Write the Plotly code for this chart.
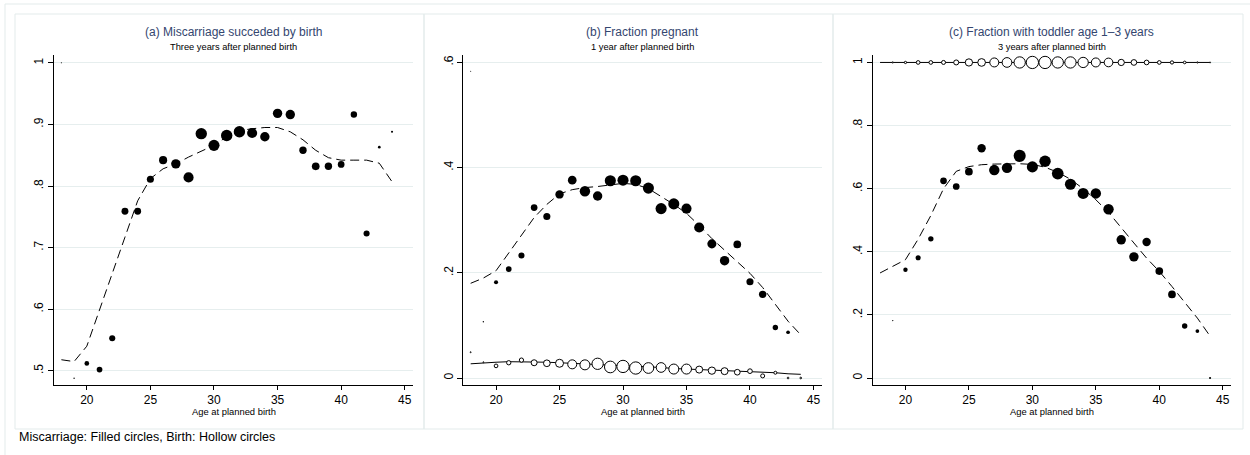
import plotly.graph_objects as go

# ---------------- data ----------------
ages = [18, 19, 20, 21, 22, 23, 24, 25, 26, 27, 28, 29, 30, 31, 32, 33, 34, 35, 36, 37, 38, 39, 40, 41, 42, 43, 44]

# (a) Miscarriage succeded by birth, three years after planned birth
a_misc_age = [18, 19, 20, 21, 22, 23, 24, 25, 26, 27, 28, 29, 30, 31, 32, 33, 34, 35, 36, 37, 38, 39, 40, 41, 42, 43, 44]
a_misc_val = [1.000, 0.488, 0.512, 0.502, 0.553, 0.759, 0.759, 0.811, 0.842, 0.836, 0.814, 0.885, 0.866, 0.882,
              0.888, 0.886, 0.880, 0.918, 0.916, 0.858, 0.832, 0.832, 0.835, 0.916, 0.723, 0.863, 0.888]
a_misc_wt = [1.7, 2.0, 5.3, 6.3, 6.7, 7.5, 7.5, 7.7, 8.7, 10.0, 10.7, 12.0, 11.7, 12.0, 12.0, 10.7, 10.0, 10.0,
             10.0, 8.0, 8.3, 8.0, 7.3, 7.0, 6.7, 3.3, 2.7]
a_fit = [0.518, 0.515, 0.540, 0.598, 0.657, 0.717, 0.776, 0.812, 0.828, 0.836, 0.847, 0.856, 0.866, 0.880, 0.890,
         0.893, 0.895, 0.895, 0.888, 0.875, 0.858, 0.846, 0.842, 0.842, 0.842, 0.837, 0.807]

# (b) Fraction pregnant, 1 year after planned birth
b_misc_age = [18, 19, 20, 21, 22, 23, 24, 25, 26, 27, 28, 29, 30, 31, 32, 33, 34, 35, 36, 37, 38, 39, 40, 41, 42, 43]
b_misc_val = [0.583, 0.107, 0.182, 0.207, 0.233, 0.324, 0.307, 0.349, 0.376, 0.355, 0.346, 0.375, 0.376, 0.375,
              0.361, 0.322, 0.331, 0.322, 0.286, 0.255, 0.223, 0.254, 0.183, 0.159, 0.096, 0.087]
b_misc_wt = [1.3, 2.0, 4.7, 6.3, 6.7, 7.3, 7.7, 9.0, 9.3, 11.0, 10.0, 11.7, 11.7, 11.7, 11.7, 11.7, 11.7, 10.7,
             10.7, 9.7, 10.0, 8.3, 7.7, 8.0, 6.0, 4.3]
b_misc_fit = [0.180, 0.190, 0.204, 0.237, 0.272, 0.305, 0.330, 0.350, 0.358, 0.362, 0.364, 0.367, 0.370, 0.368,
              0.360, 0.345, 0.330, 0.313, 0.290, 0.265, 0.243, 0.221, 0.199, 0.172, 0.140, 0.108, 0.082]
b_birth_age = [18, 19, 20, 21, 22, 23, 24, 25, 26, 27, 28, 29, 30, 31, 32, 33, 34, 35, 36, 37, 38, 39, 40, 41, 42, 43, 44]
b_birth_val = [0.049, 0.030, 0.023, 0.029, 0.034, 0.029, 0.028, 0.028, 0.026, 0.025, 0.027, 0.021, 0.022, 0.019,
               0.019, 0.020, 0.017, 0.017, 0.016, 0.014, 0.013, 0.011, 0.013, 0.004, 0.010, 0.000, 0.000]
b_birth_wt = [1.3, 2.0, 4.7, 5.3, 5.3, 7.0, 7.7, 9.0, 10.0, 11.0, 12.3, 12.7, 13.3, 13.3, 11.7, 10.7, 11.0, 11.0,
              8.0, 8.3, 8.0, 6.7, 5.7, 5.0, 4.0, 2.7, 2.7]
b_birth_fit = [0.027, 0.029, 0.030, 0.031, 0.031, 0.031, 0.030, 0.029, 0.028, 0.027, 0.025, 0.024, 0.023, 0.022,
               0.021, 0.020, 0.018, 0.017, 0.016, 0.015, 0.014, 0.013, 0.0125, 0.011, 0.010, 0.008, 0.007]

# (c) Fraction with toddler age 1-3 years, 3 years after planned birth
c_misc_age = [19, 20, 21, 22, 23, 24, 25, 26, 27, 28, 29, 30, 31, 32, 33, 34, 35, 36, 37, 38, 39, 40, 41, 42, 43, 44]
c_misc_val = [0.182, 0.343, 0.381, 0.441, 0.625, 0.607, 0.654, 0.728, 0.659, 0.666, 0.704, 0.669, 0.687, 0.648,
              0.614, 0.585, 0.585, 0.535, 0.438, 0.384, 0.431, 0.339, 0.265, 0.165, 0.149, 0.000]
c_misc_wt = [2.0, 5.0, 5.7, 6.0, 7.3, 7.3, 8.3, 9.0, 11.0, 11.0, 12.7, 11.7, 12.0, 12.3, 11.7, 11.7, 11.0, 11.0,
             10.0, 10.0, 9.0, 8.3, 8.3, 6.0, 4.3, 2.7]
c_misc_fit = [0.333, 0.354, 0.375, 0.440, 0.515, 0.600, 0.655, 0.670, 0.676, 0.678, 0.679, 0.679, 0.677, 0.668,
              0.652, 0.630, 0.600, 0.565, 0.525, 0.475, 0.428, 0.380, 0.338, 0.290, 0.240, 0.190, 0.133]
c_birth_age = [19, 20, 21, 22, 23, 24, 25, 26, 27, 28, 29, 30, 31, 32, 33, 34, 35, 36, 37, 38, 39, 40, 41, 42, 43, 44]
c_birth_val = [1.0, 1.0, 1.0, 1.0, 1.0, 1.0, 1.0, 1.0, 1.0, 1.0, 1.0, 1.0, 1.0, 1.0, 1.0, 1.0, 1.0, 1.0, 1.0, 1.0,
               1.0, 1.0, 1.0, 1.0, 1.0, 1.0]
c_birth_wt = [2.3, 3.3, 4.7, 4.7, 5.0, 6.0, 8.3, 8.7, 10.0, 10.7, 12.3, 13.3, 13.3, 12.3, 12.3, 11.3, 10.0, 9.7,
              7.3, 6.7, 5.7, 4.7, 4.3, 3.7, 2.3, 1.7]
c_birth_fit = [1.0, 1.0, 1.0, 1.0, 1.0, 1.0, 1.0, 1.0, 1.0, 1.0, 1.0, 1.0, 1.0, 1.0, 1.0, 1.0, 1.0, 1.0, 1.0, 1.0,
               1.0, 1.0, 1.0, 1.0, 1.0, 1.0, 1.0]

x_ticks = [20, 25, 30, 35, 40, 45]
x_ticktext = ["20", "25", "30", "35", "40", "45"]
a_yticks = [0.5, 0.6, 0.7, 0.8, 0.9, 1.0]
a_yticktext = [".5", ".6", ".7", ".8", ".9", "1"]
b_yticks = [0.0, 0.2, 0.4, 0.6]
b_yticktext = ["0", ".2", ".4", ".6"]
c_yticks = [0.0, 0.2, 0.4, 0.6, 0.8, 1.0]
c_yticktext = ["0", ".2", ".4", ".6", ".8", "1"]

titles = ["(a) Miscarriage succeded by birth", "(b) Fraction pregnant", "(c) Fraction with toddler age 1–3 years"]
subtitles = ["Three years after planned birth", "1 year after planned birth", "3 years after planned birth"]
x_title = "Age at planned birth"
note = "Miscarriage: Filled circles, Birth: Hollow circles"

# ---------------- layout helpers ----------------
W, H = 1250, 455
FONT = "Liberation Sans, Arial, sans-serif"
GRID = "#e6eeee"
BORDER = "#e3ebeb"
TITLE_COL = "#34466f"


def px(p):
    return p / W


def py(p):
    return 1 - p / H


plot_x = [(54, 413), (463.3, 821.7), (872.7, 1231)]
plot_y = (55, 385)
panel_x = [(15, 424), (424, 833), (833, 1243)]
x_range = [17.42, 45.65]
y_ranges = [[0.477, 1.0127], [-0.0133, 0.614], [-0.022, 1.0236]]
y_ticks = [(a_yticks, a_yticktext), (b_yticks, b_yticktext), (c_yticks, c_yticktext)]


def filled_size(w):
    return [max(v - 0.6, 1.0) for v in w]


def hollow_size(w):
    return [max(v - 1.0, 1.0) for v in w]


fig = go.Figure()
dash_line = dict(color="black", width=1, dash="9px,5px")
solid_line = dict(color="black", width=1)


def filled_marker(w):
    return dict(color="black", size=filled_size(w), opacity=1, line=dict(width=0))


def hollow_marker(w):
    return dict(color="white", size=hollow_size(w), opacity=1, line=dict(color="black", width=1))


# panel a
fig.add_trace(go.Scatter(x=ages, y=a_fit, mode="lines", line=dash_line, xaxis="x", yaxis="y", hoverinfo="skip"))
fig.add_trace(go.Scatter(x=a_misc_age, y=a_misc_val, mode="markers", xaxis="x", yaxis="y",
                         marker=filled_marker(a_misc_wt)))
# panel b
fig.add_trace(go.Scatter(x=ages, y=b_misc_fit, mode="lines", line=dash_line, xaxis="x2", yaxis="y2", hoverinfo="skip"))
fig.add_trace(go.Scatter(x=ages, y=b_birth_fit, mode="lines", line=solid_line, xaxis="x2", yaxis="y2", hoverinfo="skip"))
fig.add_trace(go.Scatter(x=b_misc_age, y=b_misc_val, mode="markers", xaxis="x2", yaxis="y2",
                         marker=filled_marker(b_misc_wt)))
fig.add_trace(go.Scatter(x=b_birth_age, y=b_birth_val, mode="markers", xaxis="x2", yaxis="y2",
                         marker=hollow_marker(b_birth_wt)))
# panel c
fig.add_trace(go.Scatter(x=ages, y=c_misc_fit, mode="lines", line=dash_line, xaxis="x3", yaxis="y3", hoverinfo="skip"))
fig.add_trace(go.Scatter(x=ages, y=c_birth_fit, mode="lines", line=solid_line, xaxis="x3", yaxis="y3", hoverinfo="skip"))
fig.add_trace(go.Scatter(x=c_misc_age, y=c_misc_val, mode="markers", xaxis="x3", yaxis="y3",
                         marker=filled_marker(c_misc_wt)))
fig.add_trace(go.Scatter(x=c_birth_age, y=c_birth_val, mode="markers", xaxis="x3", yaxis="y3",
                         marker=hollow_marker(c_birth_wt)))

layout = dict(
    width=W, height=H, showlegend=False,
    margin=dict(l=0, r=0, t=0, b=0),
    paper_bgcolor="white", plot_bgcolor="white",
    font=dict(family=FONT, color="black"),
)

annotations = []
shapes = []
for i in range(3):
    sx = "" if i == 0 else str(i + 1)
    x0, x1 = plot_x[i]
    layout["xaxis" + sx] = dict(
        domain=[px(x0), px(x1)], range=x_range, anchor="y" + sx,
        tickvals=x_ticks, ticktext=x_ticktext, ticks="outside", ticklen=4, tickwidth=1, tickcolor="black",
        showline=True, linecolor="black", linewidth=1, showgrid=False, zeroline=False,
        tickfont=dict(family=FONT, size=12, color="black"),
    )
    tv, tt = y_ticks[i]
    layout["yaxis" + sx] = dict(
        domain=[py(plot_y[1]), py(plot_y[0])], range=y_ranges[i], anchor="x" + sx,
        tickvals=tv, ticktext=tt, ticks="outside", ticklen=5, tickwidth=1, tickcolor="black",
        showline=True, linecolor="black", linewidth=1, showgrid=True, gridcolor=GRID, gridwidth=1,
        zeroline=False, tickangle=-90, tickfont=dict(family=FONT, size=12, color="black"),
    )
    cx = (x0 + x1) / 2
    annotations.append(dict(x=px(cx), y=py(31.7), xref="paper", yref="paper", text=titles[i], showarrow=False,
                            xanchor="center", yanchor="middle", font=dict(family=FONT, size=12, color=TITLE_COL)))
    annotations.append(dict(x=px(cx), y=py(46.7), xref="paper", yref="paper", text=subtitles[i], showarrow=False,
                            xanchor="center", yanchor="middle", font=dict(family=FONT, size=9.3, color="black")))
    annotations.append(dict(x=px(cx), y=py(411), xref="paper", yref="paper", text=x_title, showarrow=False,
                            xanchor="center", yanchor="middle", font=dict(family=FONT, size=9.4, color="black")))
    p0, p1 = panel_x[i]
    shapes.append(dict(type="rect", xref="paper", yref="paper", x0=px(p0), x1=px(p1), y0=py(429), y1=py(14),
                       line=dict(color=BORDER, width=1), layer="below"))

# outer frame (top and left)
shapes.append(dict(type="line", xref="paper", yref="paper", x0=px(5), x1=1, y0=py(4), y1=py(4),
                   line=dict(color=BORDER, width=1)))
shapes.append(dict(type="line", xref="paper", yref="paper", x0=px(5), x1=px(5), y0=0, y1=py(4),
                   line=dict(color=BORDER, width=1)))

annotations.append(dict(x=px(17), y=py(437), xref="paper", yref="paper", text=note, showarrow=False,
                        xanchor="left", yanchor="middle", font=dict(family=FONT, size=12.5, color="black")))

layout["annotations"] = annotations
layout["shapes"] = shapes
fig.update_layout(**layout)
fig.write_html("out.html", config={"displayModeBar": False},
               post_script="document.body.style.margin='0';document.body.style.padding='0';")
